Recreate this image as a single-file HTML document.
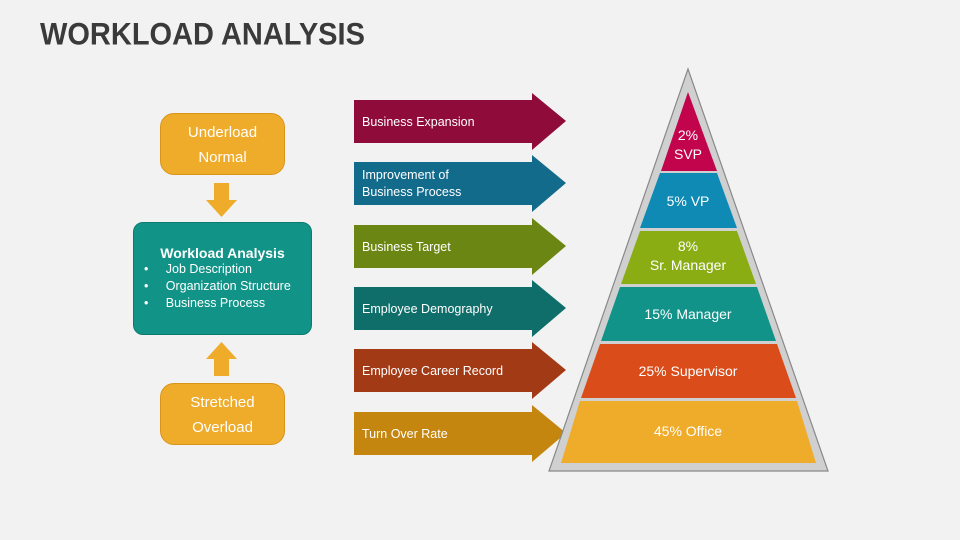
<!DOCTYPE html>
<html><head><style>
body{margin:0;width:960px;height:540px;background:#f2f2f2;font-family:"Liberation Sans",sans-serif;position:relative;overflow:hidden}
.t{position:absolute;left:40px;top:17px;font-size:29px;font-weight:bold;color:#3a3a3a;transform:scaleY(1.1);transform-origin:top left}
.box{position:absolute;background:#efab2a;border:1px solid #d8951c;border-radius:14px;color:#fff;font-size:15px;text-align:center;line-height:25px;box-sizing:border-box;padding-top:6px}
.wa{position:absolute;left:133px;top:222px;width:179px;height:113px;background:#129388;border:1px solid #0d7a70;border-radius:10px;color:#fff;box-sizing:border-box;font-size:12.5px}
</style></head><body>
<div class="t">WORKLOAD ANALYSIS</div>
<div class="box" style="left:160px;top:113px;width:125px;height:62px">Underload<br>Normal</div>
<div class="box" style="left:160px;top:383px;width:125px;height:62px">Stretched<br>Overload</div>
<div class="wa">
<div style="text-align:center;font-weight:bold;font-size:14px;margin-top:22px">Workload Analysis</div>
<div style="position:relative;left:10px;line-height:17px">
<div>•&nbsp;&nbsp;&nbsp;&nbsp;&nbsp;Job Description</div>
<div>•&nbsp;&nbsp;&nbsp;&nbsp;&nbsp;Organization Structure</div>
<div>•&nbsp;&nbsp;&nbsp;&nbsp;&nbsp;Business Process</div></div></div>
<svg width="960" height="540" style="position:absolute;left:0;top:0">
<polygon points="214,183 229,183 229,200 237,200 221.5,217 206,200 214,200" fill="#efab2a"/>
<polygon points="214,376 229,376 229,359 237,359 221.5,342 206,359 214,359" fill="#efab2a"/>
<g font-size="12.5" fill="#fff" font-family="Liberation Sans">
<polygon points="354,100 532,100 532,93 566,121 532,150 532,143 354,143" fill="#8f0b3a"/>
<text x="362" y="126">Business Expansion</text>
<polygon points="354,162 532,162 532,155 566,183 532,212 532,205 354,205" fill="#136b8c"/>
<text x="362" y="179">Improvement of</text><text x="362" y="196">Business Process</text>
<polygon points="354,225 532,225 532,218 566,246 532,275 532,268 354,268" fill="#6c8613"/>
<text x="362" y="251">Business Target</text>
<polygon points="354,287 532,287 532,280 566,308 532,337 532,330 354,330" fill="#0f6e6a"/>
<text x="362" y="313">Employee Demography</text>
<polygon points="354,349 532,349 532,342 566,370 532,399 532,392 354,392" fill="#a33a16"/>
<text x="362" y="375">Employee Career Record</text>
<polygon points="354,412 532,412 532,405 566,433 532,462 532,455 354,455" fill="#c5860f"/>
<text x="362" y="438">Turn Over Rate</text>
</g>
<polygon points="688,69 549,471 828,471" fill="#d0d0d0" stroke="#888" stroke-width="1.2"/>
<g font-size="14" fill="#fff" text-anchor="middle" font-family="Liberation Sans">
<polygon points="688,92 717,171 661,171" fill="#c2044d"/>
<text x="688" y="140">2%</text><text x="688" y="159">SVP</text>
<polygon points="660,173 717,173 737,228 640,228" fill="#0f8ab4"/>
<text x="688" y="206">5% VP</text>
<polygon points="640,231 737,231 756,284 621,284" fill="#8aad14"/>
<text x="688" y="251">8%</text><text x="688" y="270">Sr. Manager</text>
<polygon points="620,287 757,287 776,341 601,341" fill="#12938a"/>
<text x="688" y="319">15% Manager</text>
<polygon points="600,344 777,344 796,398 581,398" fill="#da4d1a"/>
<text x="688" y="376">25% Supervisor</text>
<polygon points="580,401 797,401 816,463 561,463" fill="#efab2a"/>
<text x="688" y="436">45% Office</text>
</g>
</svg>
</body></html>
